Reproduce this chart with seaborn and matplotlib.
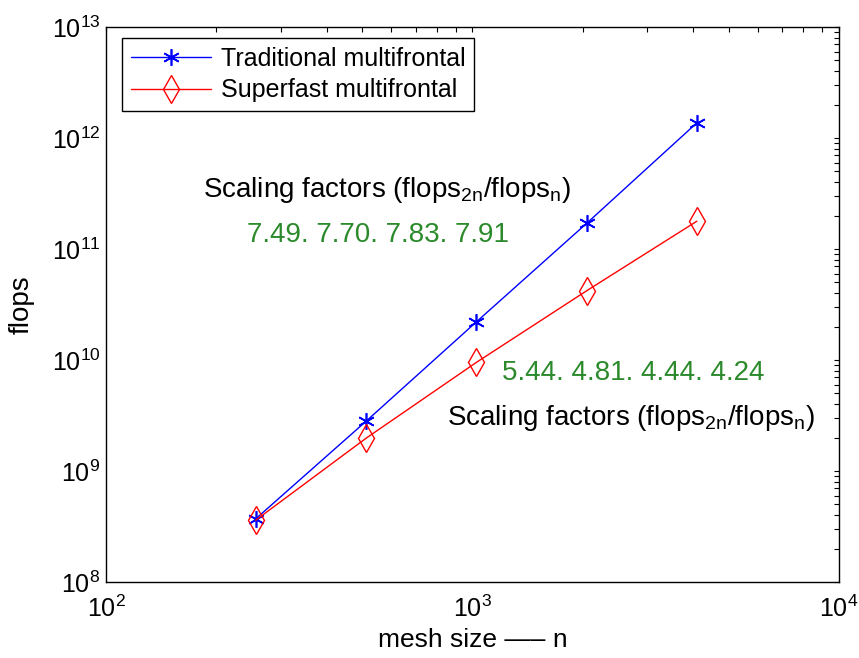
import pandas as pd
import matplotlib.pyplot as plt
import seaborn as sns

# data
mesh_size = [256, 512, 1024, 2048, 4096]
traditional_flops = [3.7e8, 2.8e9, 2.2e10, 1.7e11, 1.37e12]
superfast_flops = [3.6e8, 1.97e9, 9.5e9, 4.2e10, 1.78e11]
traditional_factors = ["7.49", "7.70", "7.83", "7.91"]
superfast_factors = ["5.44", "4.81", "4.44", "4.24"]

trad = pd.DataFrame({"n": mesh_size, "flops": traditional_flops})
fast = pd.DataFrame({"n": mesh_size, "flops": superfast_flops})

# plot
sns.set_theme(style="white")
plt.rcParams["font.family"] = ["Liberation Sans", "DejaVu Sans"]
plt.rcParams["mathtext.fontset"] = "custom"
plt.rcParams["mathtext.rm"] = "Liberation Sans"
plt.rcParams["mathtext.it"] = "Liberation Sans"
for key in ["text.color", "axes.labelcolor", "xtick.color", "ytick.color"]:
    plt.rcParams[key] = "black"

fig = plt.figure(figsize=(8.59, 6.58), dpi=100)
ax = fig.add_axes([0.1234, 0.1155, 0.8533, 0.8435])

sns.lineplot(data=trad, x="n", y="flops", ax=ax, color="#0000ff", lw=1,
             marker=(6, 2, 0), markersize=12, mec="#0000ff", mew=1.2,
             label="Traditional multifrontal")
sns.lineplot(data=fast, x="n", y="flops", ax=ax, color="#ff0000", lw=1,
             marker="d", markersize=14, mec="#ff0000", mfc="none", mew=1,
             label="Superfast multifrontal")

ax.set_xscale("log")
ax.set_yscale("log")
ax.set_xlim(1e2, 1e4)
ax.set_ylim(1e8, 1e13)

ax.set_xlabel("mesh size \u2014\u2013 n", fontsize=19, labelpad=4)
ax.set_ylabel("flops", fontsize=20, labelpad=12)

ax.tick_params(which="both", direction="in", top=True, right=True,
               labelsize=18, color="black", length=3.5, width=0.8)
ax.tick_params(axis="x", which="major", pad=10)
ax.tick_params(axis="y", which="major", pad=4)
for s in ax.spines.values():
    s.set_color("black")
    s.set_linewidth(1.0)

green = "#2b8a2b"
label = "Scaling factors (flops$_{\\mathrm{2n}}$/flops$_{\\mathrm{n}}$)"
ax.text(0.383, 0.694, label, transform=ax.transAxes, ha="center", va="baseline", fontsize=20)
ax.text(0.371, 0.613, ". ".join(traditional_factors), transform=ax.transAxes,
        ha="center", va="baseline", fontsize=20, color=green)
ax.text(0.719, 0.364, ". ".join(superfast_factors), transform=ax.transAxes,
        ha="center", va="baseline", fontsize=20, color=green)
ax.text(0.716, 0.283, label, transform=ax.transAxes, ha="center", va="baseline", fontsize=20)

leg = ax.legend(loc="upper left", bbox_to_anchor=(0.0218, 0.980), borderaxespad=0,
                fontsize=18, fancybox=False, edgecolor="black", framealpha=1,
                handlelength=3.2, borderpad=0.35, labelspacing=0.3, handletextpad=0.4)
leg.get_frame().set_linewidth(1.0)

fig.savefig("out.png", dpi=100)
